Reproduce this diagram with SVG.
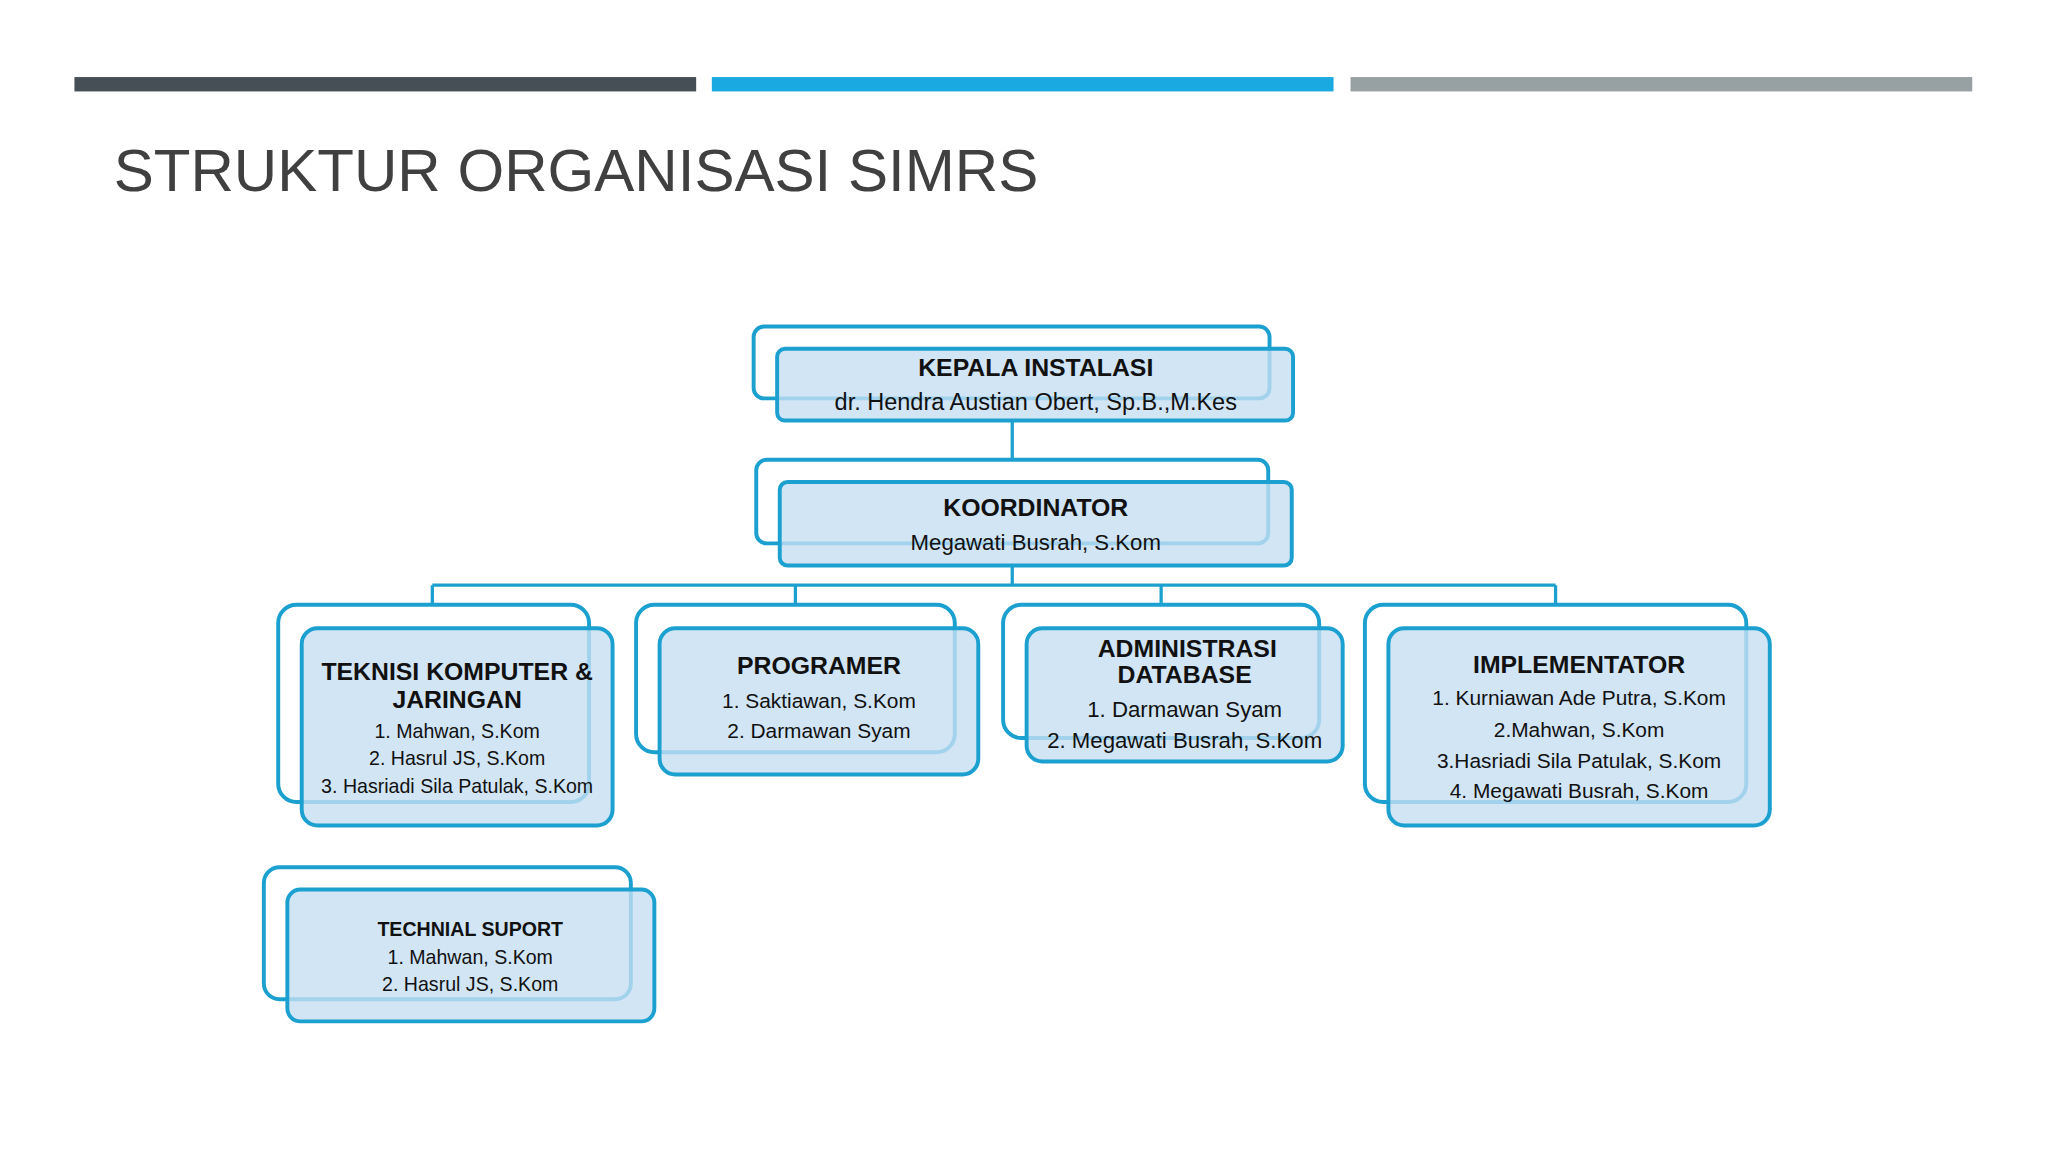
<svg xmlns="http://www.w3.org/2000/svg" width="2048" height="1152" viewBox="0 0 2048 1152">
<style>
.bk{fill:none;stroke:#1ba0d0;stroke-width:3}
.fr{fill:#c6def2;fill-opacity:0.8;stroke:#1ba0d0;stroke-width:3}
.t{font-family:"Liberation Sans",Arial,sans-serif;text-anchor:middle;fill:#111}
.b{font-weight:bold}
.c{stroke:#1ba0d0;stroke-width:2.5;fill:none}
</style>
<rect width="2048" height="1152" fill="#fff"/>
<g transform="scale(1.30612)">
<rect x="57" y="59" width="476" height="11" fill="#454f55"/>
<rect x="545" y="59" width="476" height="11" fill="#1ba9e1"/>
<rect x="1034" y="59" width="476" height="11" fill="#97a0a3"/>
<text x="87" y="146" font-family="Liberation Sans,Arial,sans-serif" font-size="46" fill="#404040">STRUKTUR ORGANISASI SIMRS</text>
<g id="connectors">
<path class="c" d="M775 322V352M775 433V448M331 448H1191M331 448V463M609 448V463M889 448V463M1191 448V463"/>
</g>
<g id="kepala">
<rect class="bk" x="577" y="250" width="395" height="55" rx="8"/>
<rect class="fr" x="595" y="267" width="395" height="55" rx="6"/>
<text class="t b" x="793" y="288" font-size="19">KEPALA INSTALASI</text>
<text class="t" x="793" y="314" font-size="18">dr. Hendra Austian Obert, Sp.B.,M.Kes</text>
</g>
<g id="koordinator">
<rect class="bk" x="579" y="352" width="392" height="64" rx="8"/>
<rect class="fr" x="597" y="369" width="392" height="64" rx="6"/>
<text class="t b" x="793" y="395" font-size="19">KOORDINATOR</text>
<text class="t" x="793" y="421" font-size="17">Megawati Busrah, S.Kom</text>
</g>
<g id="teknisi">
<rect class="bk" x="213" y="463" width="238" height="151" rx="14"/>
<rect class="fr" x="231" y="481" width="238" height="151" rx="12"/>
<text class="t b" x="350" y="521" font-size="19">TEKNISI KOMPUTER &amp;</text>
<text class="t b" x="350" y="542" font-size="19">JARINGAN</text>
<text class="t" x="350" y="565" font-size="15">1. Mahwan, S.Kom</text>
<text class="t" x="350" y="586" font-size="15">2. Hasrul JS, S.Kom</text>
<text class="t" x="350" y="607" font-size="15">3. Hasriadi Sila Patulak, S.Kom</text>
</g>
<g id="programer">
<rect class="bk" x="487" y="463" width="244" height="113" rx="14"/>
<rect class="fr" x="505" y="481" width="244" height="112" rx="12"/>
<text class="t b" x="627" y="516" font-size="19">PROGRAMER</text>
<text class="t" x="627" y="542" font-size="16">1. Saktiawan, S.Kom</text>
<text class="t" x="627" y="565" font-size="16">2. Darmawan Syam</text>
</g>
<g id="admin">
<rect class="bk" x="768" y="463" width="242" height="102" rx="14"/>
<rect class="fr" x="786" y="481" width="242" height="102" rx="12"/>
<text class="t b" x="909" y="503" font-size="19">ADMINISTRASI</text>
<text class="t b" x="907" y="523" font-size="19">DATABASE</text>
<text class="t" x="907" y="549" font-size="17">1. Darmawan Syam</text>
<text class="t" x="907" y="573" font-size="17">2. Megawati Busrah, S.Kom</text>
</g>
<g id="implementator">
<rect class="bk" x="1045" y="463" width="292" height="151" rx="14"/>
<rect class="fr" x="1063" y="481" width="292" height="151" rx="12"/>
<text class="t b" x="1209" y="515" font-size="19">IMPLEMENTATOR</text>
<text class="t" x="1209" y="540" font-size="16">1. Kurniawan Ade Putra, S.Kom</text>
<text class="t" x="1209" y="564" font-size="16">2.Mahwan, S.Kom</text>
<text class="t" x="1209" y="588" font-size="16">3.Hasriadi Sila Patulak, S.Kom</text>
<text class="t" x="1209" y="611" font-size="16">4. Megawati Busrah, S.Kom</text>
</g>
<g id="technial">
<rect class="bk" x="202" y="664" width="281" height="101" rx="12"/>
<rect class="fr" x="220" y="681" width="281" height="101" rx="10"/>
<text class="t b" x="360" y="717" font-size="15">TECHNIAL SUPORT</text>
<text class="t" x="360" y="738" font-size="15">1. Mahwan, S.Kom</text>
<text class="t" x="360" y="759" font-size="15">2. Hasrul JS, S.Kom</text>
</g>
</g>
</svg>
